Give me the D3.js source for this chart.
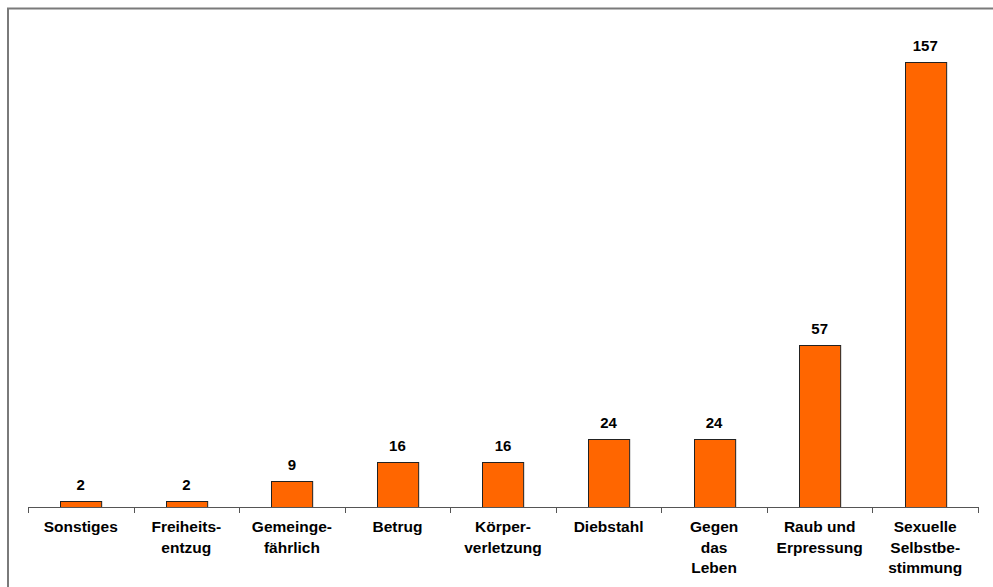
<!DOCTYPE html>
<html><head><meta charset="utf-8">
<script src="https://cdn.jsdelivr.net/npm/d3@7"></script>
<style>body{margin:0;background:#fff}svg{display:block}</style>
</head><body>
<svg id="c" width="993" height="587"></svg>
<script>
const categories = [
  ["Sonstiges"],
  ["Freiheits-","entzug"],
  ["Gemeinge-","fährlich"],
  ["Betrug"],
  ["Körper-","verletzung"],
  ["Diebstahl"],
  ["Gegen","das","Leben"],
  ["Raub und","Erpressung"],
  ["Sexuelle","Selbstbe-","stimmung"]
];
const values = [2, 2, 9, 16, 16, 24, 24, 57, 157];

(function(){
const svg = d3.select("#c");
const left = 28, right = 978, base = 507, topY = 62;
const keys = categories.map((d,i)=>i);
const x = d3.scaleBand().domain(keys).range([left, right]).paddingInner(0.61).paddingOuter(0.305);
const xb = d3.scaleBand().domain(keys).range([left, right]);
const y = d3.scaleLinear().domain([0, 157]).range([base, topY]);

// frame
svg.append("rect").attr("x", 8).attr("y", 8.5).attr("width", 1200).attr("height", 1200)
  .attr("fill", "none").attr("stroke", "#7a7a7a").attr("stroke-width", 2);

// bars
svg.selectAll("rect.bar").data(values).join("rect").attr("class","bar")
  .attr("x", (d,i)=>Math.round(x(i))+0.5)
  .attr("y", d=>Math.round(y(d))+0.5)
  .attr("width", x.bandwidth())
  .attr("height", d=>base - Math.round(y(d)))
  .attr("fill", "#FF6600").attr("stroke", "#222").attr("stroke-width", 1);

// axis
svg.append("line").attr("x1", left).attr("x2", right).attr("y1", base+0.5).attr("y2", base+0.5)
  .attr("stroke", "#555").attr("stroke-width", 1);
const ticks = keys.map(i=>xb(i)).concat([right]);
svg.selectAll("line.tick").data(ticks).join("line").attr("class","tick")
  .attr("x1", d=>Math.round(d)+0.5).attr("x2", d=>Math.round(d)+0.5)
  .attr("y1", base).attr("y2", base+6).attr("stroke", "#555");

// value labels
svg.selectAll("text.val").data(values).join("text").attr("class","val")
  .attr("x", (d,i)=>x(i)+x.bandwidth()/2)
  .attr("y", d=>y(d)-11)
  .attr("text-anchor","middle")
  .attr("font-family","'Liberation Sans', Arial, sans-serif")
  .attr("font-weight","bold").attr("font-size", 15).attr("fill","#000")
  .text(d=>d);

// category labels
const cat = svg.selectAll("text.cat").data(categories).join("text").attr("class","cat")
  .attr("text-anchor","middle")
  .attr("font-family","'Liberation Sans', Arial, sans-serif")
  .attr("font-weight","bold").attr("font-size", 15.5).attr("fill","#000");
cat.each(function(lines,i){
  d3.select(this).selectAll("tspan").data(lines).join("tspan")
    .attr("x", x(i)+x.bandwidth()/2)
    .attr("y", (l,j)=>532+j*20.5)
    .text(l=>l);
});
})();
</script>
</body></html>
